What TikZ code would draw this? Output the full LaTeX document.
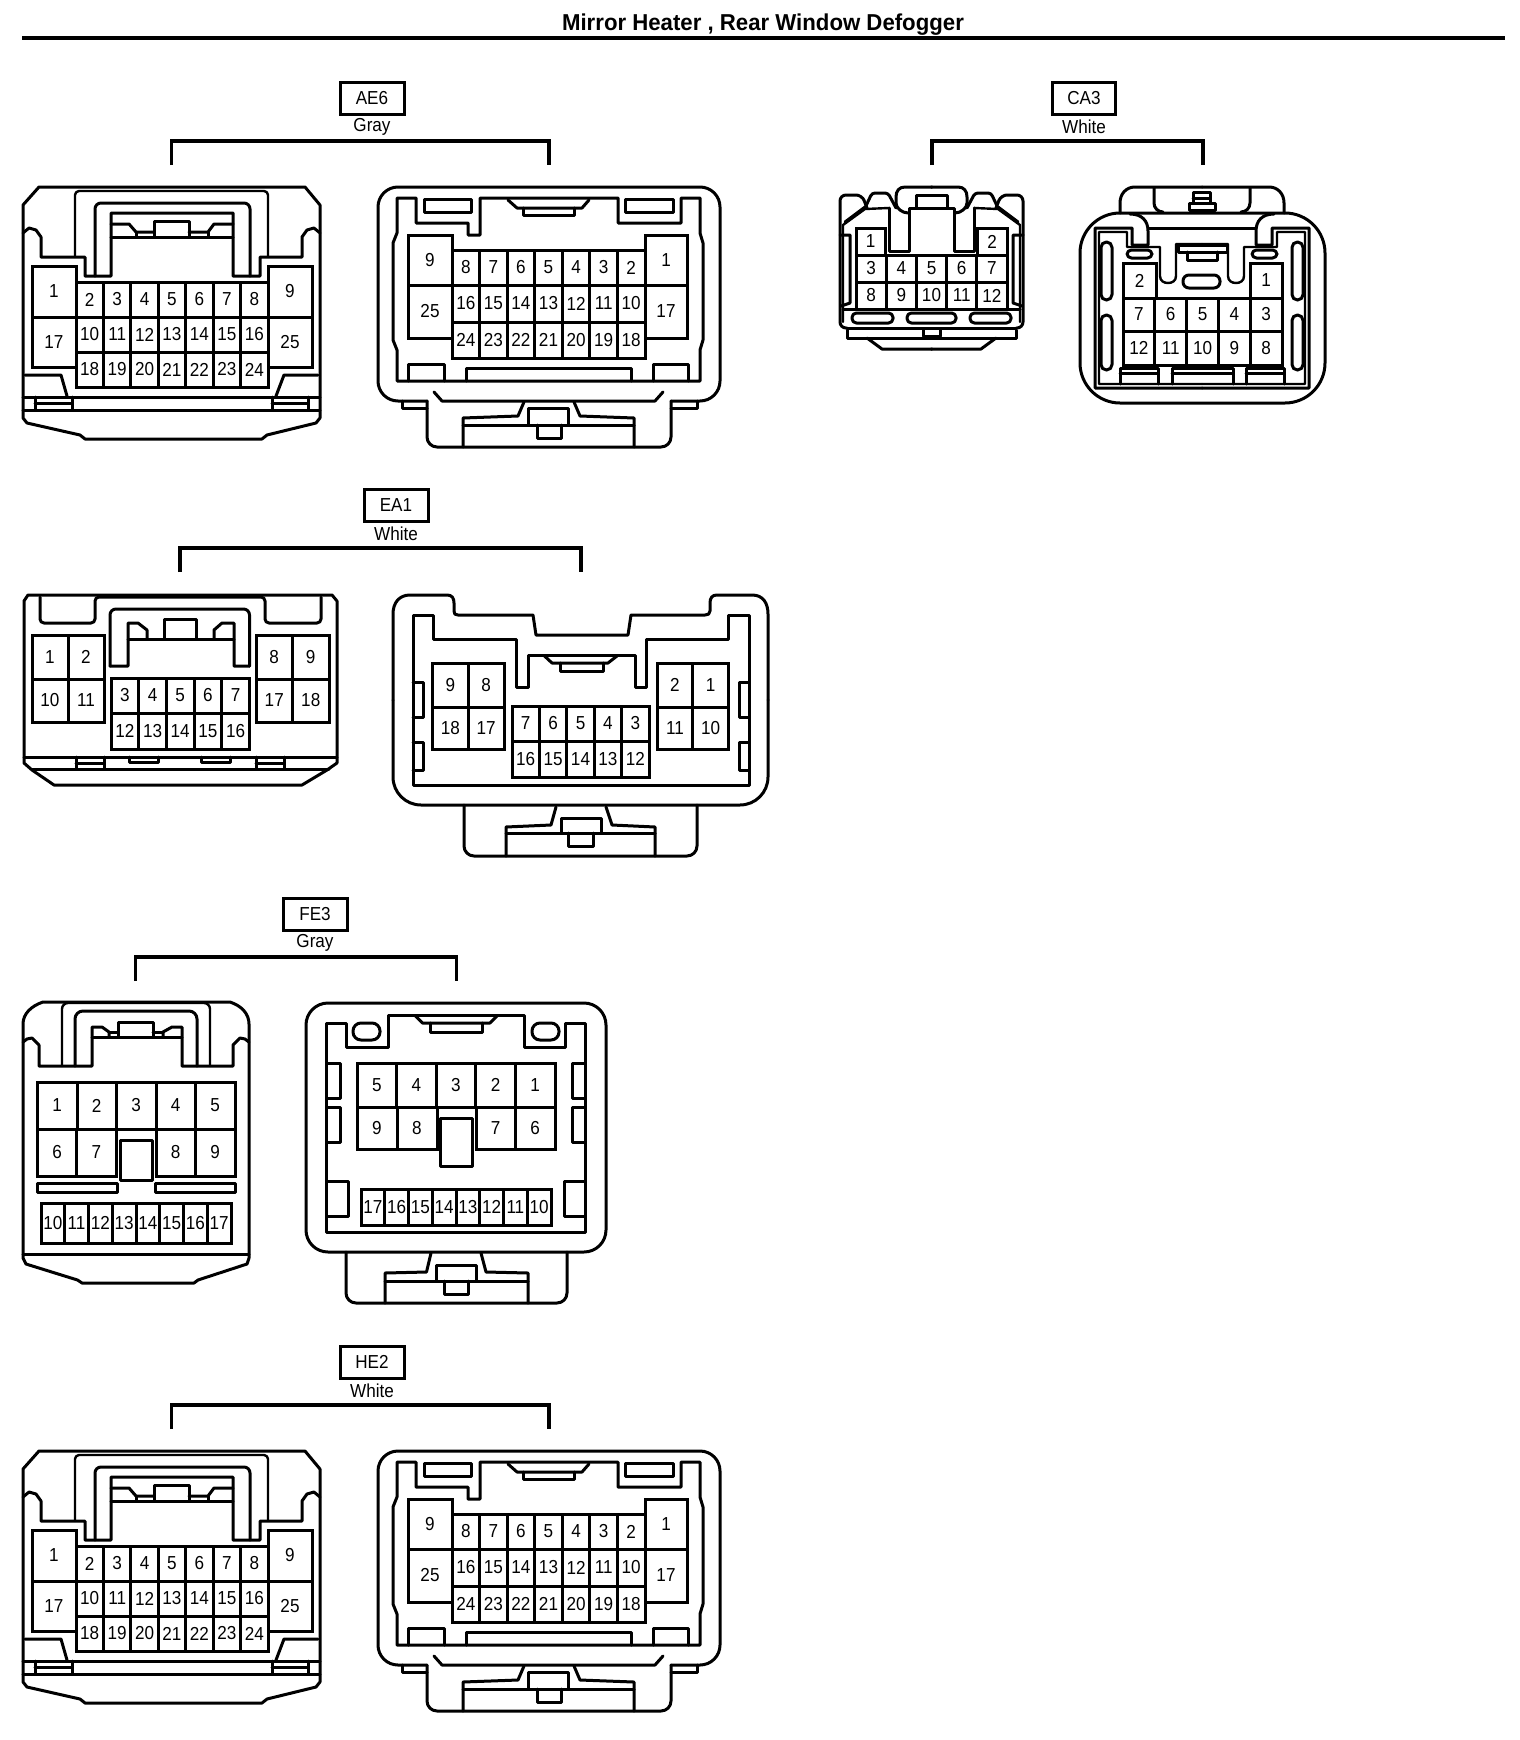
\documentclass[tikz,border=0pt]{standalone}
\usepackage{fontspec}
\setmainfont{Liberation Sans}
\newfontfamily\labf[FakeStretch=0.91]{Liberation Sans}
\newfontfamily\titf[FakeStretch=0.965]{Liberation Sans}
\tikzset{
  x=0.5pt,y=-0.5pt,
  ol/.style={line width=1.5pt,line join=round,line cap=round},
  tl/.style={line width=1.2pt,line join=round,line cap=round},
  pin/.style={draw,line width=1.5pt,inner sep=0pt,outer sep=0pt,font=\labf\fontsize{9.4}{10}\selectfont},
  hbox/.style={draw,line width=1.5pt,inner sep=0pt,outer sep=0pt,minimum height=16pt,font=\labf\fontsize{9.4}{10}\selectfont},
  htext/.style={inner sep=0pt,font=\labf\fontsize{9.4}{10}\selectfont},
  brk/.style={line width=1.6pt,line join=miter},
}
% prefix,x0,x1,y0,y1,n,labels
\newcommand\pinrow[7]{%
  \foreach \lab [count=\ii] in {#7}{%
    \pgfmathsetmacro\cx{#2+(\ii-0.5)*(#3-#2)/#6}
    \node[pin,minimum width={(#3-#2)/#6*0.5pt},minimum height={(#5-#4)*0.5pt}] (#1-\lab) at (\cx,{(#4+#5)/2}) {\lab};
  }%
}
% name,label,colour,boxcx,boxw,boxtop,xL,xR
\newcommand\header[8]{%
  \node[hbox,minimum width={#5*0.5pt},anchor=north] (#1) at (#4,#6) {#2};
  \node[htext] (#1c) at (#4,#6+45) {#3};
  \coordinate (#1l) at (#7,#6+83);
  \coordinate (#1r) at (#8,#6+83);
  \draw[brk] (#1l) -- (#7,#6+59) -- (#8,#6+59) -- (#1r);
}
\newcommand\aeleft[1]{%
  \draw[ol] (39,187) -- (305,187) -- (320,205) -- (320,418) -- (316,423) -- (267,435) -- (262,439) -- (85,439) -- (80,435) -- (27,423) -- (23,418) -- (23,205) -- cycle;
  \draw[ol] (23,233) -- (29,228) -- (36,230) -- (41,237) -- (41,257) -- (85,257) -- (85,276) -- (111,276) -- (111,213) -- (233,213) -- (233,276) -- (260,276) -- (260,257) -- (302,257) -- (302,237) -- (307,230) -- (314,228) -- (320,233);
  \draw[tl,rounded corners=2pt] (75,257) -- (75,191) -- (268,191) -- (268,257);
  \draw[ol,rounded corners=3pt] (95,276) -- (95,203) -- (250,203) -- (250,276);
  \draw[ol] (111,237) -- (233,237);
  \draw[ol] (111,224) -- (129,224) -- (136,232) -- (154,232);
  \draw[ol] (136,232) -- (136,237);
  \draw[ol] (233,224) -- (214,224) -- (208,232) -- (189,232);
  \draw[ol] (208,232) -- (208,237);
  \draw[ol] (154,237) -- (154,221) -- (189,221) -- (189,237);
  \draw[ol] (25,375) -- (61,375) -- (67,396);
  \draw[ol] (318,375) -- (284,375) -- (276,396);
  \draw[ol] (23,397) -- (320,397);
  \draw[ol] (23,410) -- (320,410);
  \draw[ol] (35,397) -- (35,410);
  \draw[ol] (72,397) -- (72,410);
  \draw[ol] (35,403) -- (72,403);
  \draw[ol] (272,397) -- (272,410);
  \draw[ol] (308,397) -- (308,410);
  \draw[ol] (272,403) -- (308,403);
  \pinrow{#1}{32}{76}{266}{317}{1}{1}
  \pinrow{#1}{32}{76}{317}{367}{1}{17}
  \pinrow{#1}{268}{312}{266}{317}{1}{9}
  \pinrow{#1}{268}{312}{317}{367}{1}{25}
  \pinrow{#1}{76}{268}{282}{317}{7}{2,3,4,5,6,7,8}
  \pinrow{#1}{76}{268}{317}{352}{7}{10,11,12,13,14,15,16}
  \pinrow{#1}{76}{268}{352}{387}{7}{18,19,20,21,22,23,24}
}
\newcommand\aeright[1]{%
  \draw[ol,rounded corners=10pt] (427,401) -- (378,401) -- (378,187) -- (720,187) -- (720,401) -- (671,401);
  \draw[ol] (402,401) -- (402,408) -- (427,408);
  \draw[ol] (697,401) -- (697,408) -- (671,408);
  \draw[ol,rounded corners=5pt] (427,401) -- (427,447) -- (671,447) -- (671,401);
  \draw[ol] (434,392) -- (442,401) -- (655,401) -- (663,392);
  \draw[ol] (524,402) -- (518,416) -- (463,418) -- (463,447);
  \draw[ol] (574,402) -- (580,416) -- (634,418) -- (634,447);
  \draw[ol] (463,425) -- (634,425);
  \draw[ol] (528,425) -- (528,408) -- (568,408) -- (568,425);
  \draw[ol] (537,425) -- (537,438) -- (561,438) -- (561,425);
  \draw[ol] (397,198) -- (416,198) -- (416,223) -- (468,223) -- (468,235) -- (480,235) -- (480,198) -- (618,198) -- (618,223) -- (681,223) -- (681,198) -- (700,198) -- (700,233) -- (703,243) -- (703,340) -- (700,350) -- (700,381) -- (397,381) -- (397,350) -- (393,340) -- (393,243) -- (397,233) -- cycle;
  \draw[ol] (424,199) rectangle (471,212);
  \draw[ol] (625,199) rectangle (673,212);
  \draw[ol] (508,200) -- (517,208) -- (582,208) -- (589,200);
  \draw[ol] (523,208) -- (523,215) -- (574,215) -- (574,208);
  \draw[ol] (408,381) -- (408,364) -- (444,364) -- (444,381);
  \draw[ol] (653,381) -- (653,364) -- (688,364) -- (688,381);
  \draw[ol] (466,381) -- (466,368) -- (631,368) -- (631,381);
  \pinrow{#1}{408}{452}{235}{285}{1}{9}
  \pinrow{#1}{408}{452}{285}{338}{1}{25}
  \pinrow{#1}{645}{687}{235}{285}{1}{1}
  \pinrow{#1}{645}{687}{285}{338}{1}{17}
  \pinrow{#1}{452}{645}{250}{285}{7}{8,7,6,5,4,3,2}
  \pinrow{#1}{452}{645}{285}{322}{7}{16,15,14,13,12,11,10}
  \pinrow{#1}{452}{645}{322}{358}{7}{24,23,22,21,20,19,18}
}
\newcommand\caLhalf{%
  \draw[ol,rounded corners=3pt] (847,328) -- (840,328) -- (840,195) -- (862,195) -- (867,208);
  \draw[ol,rounded corners=1.5pt] (865,208) -- (872,193) -- (888,193) -- (896,208);
  \draw[tl] (843,322) -- (843,225) -- (865,209) -- (889,208);
  \draw[ol] (845,222) -- (865,207);
  \draw[ol] (889,208) -- (889,251) -- (909,251) -- (909,208) -- (932,208);
  \draw[ol] (932,187) -- (905,187) .. controls (899,187) and (896,191) .. (896,197) -- (896,203) .. controls (896,208) and (902,213) .. (908,213);
  \draw[ol] (916,208) -- (916,195) -- (932,195);
  \draw[ol] (840,235) -- (850,235) -- (850,303) -- (841,306);
  \draw[ol] (843,309) -- (857,309);
  \draw[ol] (847,328) -- (932,328);
  \draw[ol] (847,330) -- (847,338) -- (932,338);
  \draw[ol] (867,338) -- (882,349) -- (932,349);
  \draw[ol,rounded corners=2.2pt] (852,313) rectangle (893,323);
}
\newcommand\caRhalf{%
  \draw[ol] (1120,213) -- (1120,203) .. controls (1120,194) and (1126,187) .. (1135,187) -- (1202,187);
  \draw[ol] (1154,188) -- (1154,203) .. controls (1154,208) and (1158,212) .. (1163,212);
  \draw[ol] (1130,214) .. controls (1142,214) and (1148,221) .. (1148,231) -- (1148,245) -- (1132,245) -- (1132,228) -- (1095,228) -- (1095,388) -- (1202,388);
  \draw[ol] (1148,228) -- (1202,228);
  \draw[tl] (1202,384) -- (1099,384) -- (1099,232) -- (1127,232) -- (1127,247) -- (1160,247) -- (1160,276) .. controls (1160,281) and (1164,283) .. (1168,283) .. controls (1172,283) and (1176,281) .. (1176,276) -- (1176,244) -- (1202,244);
  \draw[ol,rounded corners=2.2pt] (1127,250) rectangle (1152,258);
  \draw[ol,rounded corners=2.7pt] (1101,242) rectangle (1112,300);
  \draw[ol,rounded corners=2.7pt] (1101,315) rectangle (1112,370);
  \draw[ol] (1120,384) -- (1120,368) -- (1158,368) -- (1158,384);
  \draw[ol] (1120,373) -- (1158,373);
}
\begin{document}
\begin{tikzpicture}
\useasboundingbox (0,0) rectangle (1520,1740);
\fill[white] (0,0) rectangle (1520,1740);
% title
\node[inner sep=0pt,font=\titf\bfseries\fontsize{11.5}{13}\selectfont] (title) at (763,24.5) {Mirror Heater , Rear Window Defogger};
\coordinate (rulel) at (22,38);
\coordinate (ruler) at (1505,38);
\draw[line width=1.8pt] (rulel) -- (ruler);
% AE6
\header{ae6}{AE6}{Gray}{372}{64}{82}{171.5}{549}
\aeleft{ael}
\aeright{aer}
% HE2
\header{he2}{HE2}{White}{372}{64}{1346}{171.5}{549}
\begin{scope}[shift={(0,1264)}]
\aeleft{hel}
\aeright{her}
\end{scope}
% CA3
\header{ca3}{CA3}{White}{1084}{63}{82}{932}{1203}
\caLhalf
\begin{scope}[shift={(1863,0)},xscale=-1]\caLhalf\end{scope}
\draw[ol,rounded corners=2.2pt] (907,313) rectangle (956,323);
\draw[ol] (923,329) -- (923,336) -- (940,336) -- (940,329);
\pinrow{cal}{856}{885}{228}{255}{1}{1}
\pinrow{cal}{977}{1007}{228}{255}{1}{2}
\pinrow{cal}{856}{1007}{255}{282}{5}{3,4,5,6,7}
\pinrow{cal}{856}{1007}{282}{309}{5}{8,9,10,11,12}
\draw[ol,rounded corners=20pt] (1080,213) rectangle (1325,403);
\caRhalf
\begin{scope}[shift={(2404,0)},xscale=-1]\caRhalf\end{scope}
\draw[ol] (1193,203) -- (1193,192) -- (1210,192) -- (1210,203);
\draw[ol] (1193,198) -- (1210,198);
\draw[ol] (1189,203) rectangle (1215,210);
\draw[ol] (1178,245) rectangle (1227,252);
\draw[ol] (1187,252) -- (1187,260) -- (1217,260) -- (1217,252);
\draw[ol,rounded corners=3pt] (1183,275) rectangle (1220,288);
\draw[ol] (1172,384) -- (1172,368) -- (1233,368) -- (1233,384);
\draw[ol] (1172,373) -- (1233,373);
\pinrow{car}{1123}{1156}{263}{298}{1}{2}
\pinrow{car}{1250}{1282}{263}{298}{1}{1}
\pinrow{car}{1123}{1282}{298}{331}{5}{7,6,5,4,3}
\pinrow{car}{1123}{1282}{331}{365}{5}{12,11,10,9,8}
% EA1
\header{ea1}{EA1}{White}{396}{64}{489}{180}{581}
\draw[ol] (28,595) -- (332,595) -- (337,601) -- (337,763) -- (327,770) -- (302,785) -- (54,785) -- (32,770) -- (24,763) -- (24,601) -- cycle;
\draw[ol,rounded corners=2pt] (40,597) -- (40,623) -- (95,623) -- (95,597) -- (265,597) -- (265,623) -- (321,623) -- (321,597);
\draw[ol,rounded corners=3pt] (110,666) -- (110,609) -- (249.5,609) -- (249.5,666);
\draw[ol] (110,666) -- (128,666) -- (128,623) -- (138,623) -- (147,630) -- (147,639);
\draw[ol] (249.5,666) -- (234,666) -- (234,623) -- (222,623) -- (214,630) -- (214,639);
\draw[ol] (128,639) -- (234,639);
\draw[ol] (164,639) -- (164,619) -- (196,619) -- (196,639);
\draw[ol] (24,757) -- (337,757);
\draw[ol] (32,769) -- (329,769);
\draw[ol] (76,757) -- (76,769);
\draw[ol] (104,757) -- (104,769);
\draw[ol] (76,763) -- (104,763);
\draw[ol] (256,757) -- (256,769);
\draw[ol] (284,757) -- (284,769);
\draw[ol] (256,763) -- (284,763);
\draw[ol] (129,757) -- (129,762) -- (158,762) -- (158,757);
\draw[ol] (201,757) -- (201,762) -- (230,762) -- (230,757);
\pinrow{eal}{32}{104}{635}{679}{2}{1,2}
\pinrow{eal}{32}{104}{679}{722}{2}{10,11}
\pinrow{eal}{256}{329}{635}{679}{2}{8,9}
\pinrow{eal}{256}{329}{679}{722}{2}{17,18}
\pinrow{eal}{111}{249.5}{678}{713}{5}{3,4,5,6,7}
\pinrow{eal}{111}{249.5}{713}{749}{5}{12,13,14,15,16}
% EA1 right
\draw[ol] (393,700) -- (393,614) .. controls (393,603) and (399,595) .. (410,595) -- (447,595) .. controls (452,595) and (454,598) .. (454,603) -- (454,611) .. controls (454,614) and (455,615) .. (458,615) -- (533,615) -- (536,635) -- (628,635) -- (631,615) -- (705,615) .. controls (708,615) and (710,614) .. (710,611) -- (710,603) .. controls (710,598) and (712,595) .. (717,595) -- (752,595) .. controls (763,595) and (768,603) .. (768,614) -- (768,700);
\draw[ol,rounded corners=14pt] (393,700) -- (393,805) -- (768,805) -- (768,700);
\draw[ol] (413,615) -- (433.5,615) -- (433.5,639) -- (516,639) -- (516,687) -- (528,687) -- (528,655) -- (635.5,655) -- (635.5,687) -- (646,687) -- (646,639) -- (728.5,639) -- (728.5,615) -- (749,615) -- (749,785) -- (413,785) -- cycle;
\draw[ol] (544.5,656) -- (552,663) -- (608,663) -- (617,656);
\draw[ol] (560,663) -- (560,671) -- (603,671) -- (603,663);
\draw[ol] (413,682) -- (423,682) -- (423,717) -- (413,717);
\draw[ol] (413,742) -- (423,742) -- (423,770) -- (413,770);
\draw[ol] (749,682) -- (739,682) -- (739,717) -- (749,717);
\draw[ol] (749,742) -- (739,742) -- (739,770) -- (749,770);
\pinrow{ear}{432.5}{504}{663}{707}{2}{9,8}
\pinrow{ear}{432.5}{504}{707}{749}{2}{18,17}
\pinrow{ear}{657}{728.5}{663}{707}{2}{2,1}
\pinrow{ear}{657}{728.5}{707}{749}{2}{11,10}
\pinrow{ear}{512}{649}{706}{741}{5}{7,6,5,4,3}
\pinrow{ear}{512}{649}{741}{777}{5}{16,15,14,13,12}
\draw[ol,rounded corners=5pt] (464,805) -- (464,856) -- (697,856) -- (697,805);
\draw[ol] (556,807) -- (551,825) -- (506,827) -- (506,856);
\draw[ol] (606,807) -- (612,825) -- (655,827) -- (655,856);
\draw[ol] (506,833) -- (655,833);
\draw[ol] (561,833) -- (561,818) -- (601,818) -- (601,833);
\draw[ol] (568.5,833) -- (568.5,846) -- (593,846) -- (593,833);
% FE3
\header{fe3}{FE3}{Gray}{315}{64}{898}{135.5}{456.5}
\draw[ol] (43,1002) -- (230,1002) .. controls (242,1006) and (249,1014) .. (249,1024) -- (249,1258) -- (247,1264) -- (198,1280) -- (194,1283) -- (82,1283) -- (77.5,1280) -- (26,1264) -- (23,1258) -- (23,1024) .. controls (23,1014) and (31,1006) .. (43,1002) -- cycle;
\draw[ol] (23,1042) -- (27,1039) -- (32,1038) -- (39,1045) -- (39,1066) -- (92,1066) -- (92,1027) -- (102,1027) -- (109,1032) -- (109,1037);
\draw[ol] (249,1042) -- (245,1039) -- (240,1038) -- (233,1045) -- (233,1066) -- (182,1066) -- (182,1027) -- (172,1027) -- (163,1032) -- (163,1037);
\draw[ol] (23,1254) -- (249,1254);
\draw[ol] (92,1037) -- (182,1037);
\draw[ol] (109,1032) -- (118,1032);
\draw[ol] (153,1032) -- (163,1032);
\draw[tl,rounded corners=3pt] (62,1066) -- (62,1003) -- (210,1003) -- (210,1066);
\draw[ol,rounded corners=4pt] (75,1066) -- (75,1011) -- (197,1011) -- (197,1066);
\draw[ol] (118,1037) -- (118,1022) -- (153,1022) -- (153,1037);
\pinrow{fel}{37.5}{235}{1082}{1129}{5}{1,2,3,4,5}
\pinrow{fel}{37.5}{116}{1129}{1176}{2}{6,7}
\pinrow{fel}{156}{235}{1129}{1176}{2}{8,9}
\draw[ol] (120,1140) rectangle (152,1180);
\draw[ol] (37.5,1183) rectangle (117,1192);
\draw[ol] (155,1183) rectangle (235,1192);
\pinrow{fel}{41}{231}{1203}{1243}{8}{10,11,12,13,14,15,16,17}
% FE3 right
\draw[ol,rounded corners=11pt] (306,1003) rectangle (606,1252);
\draw[ol] (326.5,1023) -- (346,1023) -- (346,1047) -- (388,1047) -- (388,1015) -- (524.5,1015) -- (524.5,1047) -- (565,1047) -- (565,1023) -- (585,1023) -- (585,1232) -- (326.5,1232) -- cycle;
\draw[ol,rounded corners=4pt] (353,1023) rectangle (380,1040);
\draw[ol,rounded corners=4pt] (532,1023) rectangle (559,1040);
\draw[ol] (415.5,1016) -- (422.5,1023) -- (490,1023) -- (497,1016);
\draw[ol] (430,1023) -- (430,1032) -- (482,1032) -- (482,1023);
\draw[ol] (326.5,1063) -- (340,1063) -- (340,1098) -- (326.5,1098);
\draw[ol] (326.5,1107) -- (340,1107) -- (340,1142) -- (326.5,1142);
\draw[ol] (585,1063) -- (572,1063) -- (572,1098) -- (585,1098);
\draw[ol] (585,1107) -- (572,1107) -- (572,1142) -- (585,1142);
\draw[ol] (326.5,1181) -- (348,1181) -- (348,1216) -- (326.5,1216);
\draw[ol] (585,1181) -- (564,1181) -- (564,1216) -- (585,1216);
\pinrow{fer}{357}{555}{1063}{1107}{5}{5,4,3,2,1}
\pinrow{fer}{357}{437}{1107}{1149}{2}{9,8}
\pinrow{fer}{476}{555}{1107}{1149}{2}{7,6}
\draw[ol,fill=white] (440,1118) rectangle (472,1166);
\pinrow{fer}{361}{551}{1189}{1225}{8}{17,16,15,14,13,12,11,10}
\draw[ol,rounded corners=5pt] (346,1252) -- (346,1303) -- (567,1303) -- (567,1252);
\draw[ol] (431,1253) -- (426.5,1272) -- (385,1273) -- (385,1303);
\draw[ol] (481,1253) -- (486,1272) -- (528,1273) -- (528,1303);
\draw[ol] (385,1281) -- (528,1281);
\draw[ol] (436,1281) -- (436,1265) -- (476,1265) -- (476,1281);
\draw[ol] (444,1281) -- (444,1294) -- (468,1294) -- (468,1281);
\end{tikzpicture}
\end{document}
